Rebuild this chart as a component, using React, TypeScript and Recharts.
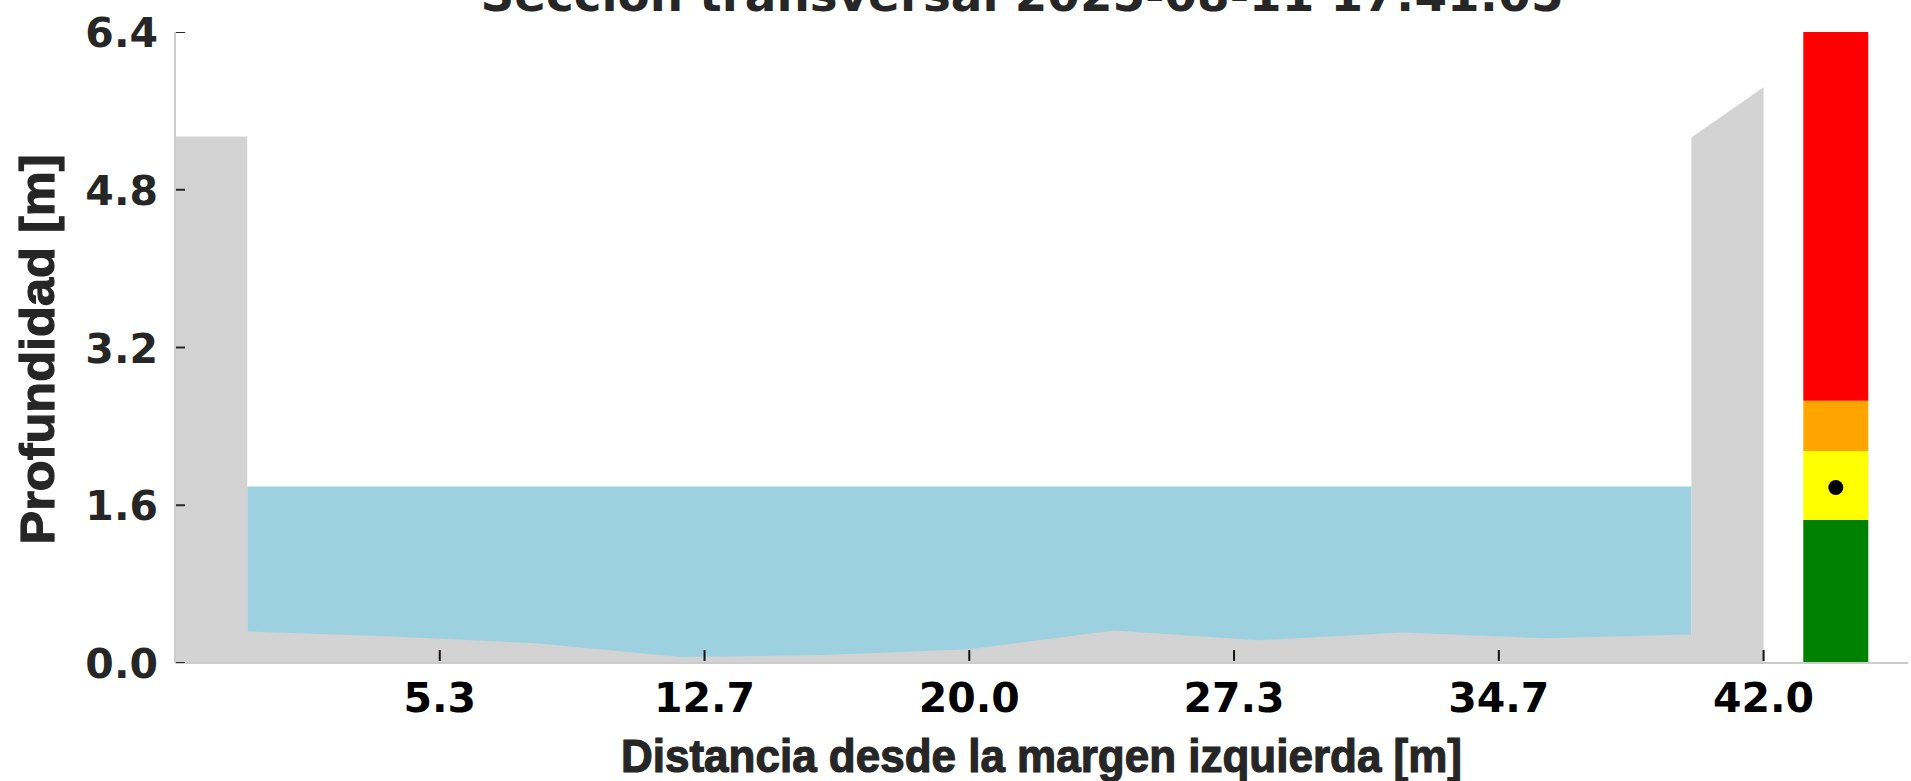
import React from 'react';
import { ComposedChart, Area, Scatter, XAxis, YAxis, ReferenceArea } from 'recharts';

// ---- text ----
const titleText = 'Sección transversal 2025-08-11 17:41:05';
const xAxisTitle = 'Distancia desde la margen izquierda [m]';
const yAxisTitle = 'Profundidad [m]';

// ---- axes ----
const xDomain = [-2, 46];
const yDomain = [0, 6.4];
const xTicks = [5.333, 12.667, 20.0, 27.333, 34.667, 42.0];
const yTicks = [0, 1.6, 3.2, 4.8, 6.4];

// ---- cross-section geometry ----
const leftBankX = [-2, 0];
const leftBankTop = [5.34, 5.34];
const bedX = [0, 4, 8, 12, 16, 20, 24, 28, 32, 36, 40];
const bedDepth = [0.32, 0.27, 0.2, 0.06, 0.08, 0.14, 0.33, 0.23, 0.31, 0.25, 0.29];
const rightBankX = [40, 42];
const rightBankTop = [5.33, 5.84];

// ---- water ----
const waterX = [0, 40];
const waterLevel = 1.79;

// ---- gauge ----
const gaugeX = [43.1, 44.9];
const gaugeBandLow = [0, 1.45, 2.15, 2.66];
const gaugeBandHigh = [1.45, 2.15, 2.66, 6.4];
const gaugeBandColor = ['#008000', '#ffff00', '#ffa500', '#ff0000'];
const currentX = [44];
const currentLevel = [1.78];

const groundData = [
  ...leftBankX.map((x, i) => ({ x, y: leftBankTop[i] })),
  ...bedX.map((x, i) => ({ x, y: bedDepth[i] })),
  ...rightBankX.map((x, i) => ({ x, y: rightBankTop[i] })),
];
const waterData = waterX.map((x) => ({ x, y: waterLevel }));
const dotData = currentX.map((x, i) => ({ x, y: currentLevel[i] }));
const xTickMarkData = xTicks.map((x) => ({ x, y: yDomain[0] }));
const yTickMarkData = yTicks.map((y) => ({ x: xDomain[0], y }));

const NUM_FONT = "'DejaVu Sans', sans-serif";
const LABEL_FONT = "'Liberation Sans', Arial, sans-serif";

const XTick = (props: any) => {
  const { x, y, payload } = props;
  return (
    <text x={x} y={y + 49} textAnchor="middle" fontFamily={NUM_FONT} fontWeight="bold" fontSize={41} fill="#000">
      {Number(payload.value).toFixed(1)}
    </text>
  );
};

const YTick = (props: any) => {
  const { x, y, payload } = props;
  return (
    <text x={x - 17} y={y + 15} textAnchor="end" fontFamily={NUM_FONT} fontWeight="bold" fontSize={41} fill="#262626">
      {Number(payload.value).toFixed(1)}
    </text>
  );
};

const XTickMark = (p: any) => (
  <line x1={p.cx} x2={p.cx} y1={p.cy - 2} y2={p.cy - 13} stroke="#111" strokeWidth={2} />
);
const YTickMark = (p: any) => (
  <line x1={p.cx + 1} x2={p.cx + 10} y1={p.cy} y2={p.cy} stroke="#262626" strokeWidth={2} />
);

const XLabel = (props: any) => {
  const vb = props.viewBox || {};
  const cx = vb.x + vb.width / 2;
  return (
    <text
      x={cx}
      y={vb.y + 109}
      textAnchor="middle"
      fontFamily={LABEL_FONT}
      fontWeight="bold"
      fontSize={46}
      fill="#262626"
      stroke="#262626"
      strokeWidth={1.2}
      textLength={841}
      lengthAdjust="spacingAndGlyphs"
    >
      {xAxisTitle}
    </text>
  );
};

const YLabel = (props: any) => {
  const vb = props.viewBox || {};
  const cx = vb.x + 54;
  const cy = vb.y + vb.height / 2 + 2;
  return (
    <text
      x={cx}
      y={cy}
      transform={`rotate(-90 ${cx} ${cy})`}
      textAnchor="middle"
      fontFamily={LABEL_FONT}
      fontWeight="bold"
      fontSize={48}
      fill="#262626"
      stroke="#262626"
      strokeWidth={1.2}
      textLength={390}
      lengthAdjust="spacingAndGlyphs"
    >
      {yAxisTitle}
    </text>
  );
};

export default function App() {
  return (
    <div style={{ position: 'absolute', left: 0, top: 0, width: 1911, height: 781, background: '#fff', overflow: 'hidden' }}>
      <ComposedChart width={1911} height={781} margin={{ top: 32, right: 3, bottom: 0, left: 0 }}>
        <Area
          data={waterData}
          dataKey="y"
          type="linear"
          stroke="none"
          fill="#9ed1e0"
          fillOpacity={1}
          isAnimationActive={false}
          dot={false}
          activeDot={false}
        />
        <Area
          data={groundData}
          dataKey="y"
          type="linear"
          stroke="none"
          fill="#d3d3d3"
          fillOpacity={1}
          isAnimationActive={false}
          dot={false}
          activeDot={false}
        />
        {gaugeBandColor.map((c, i) => (
          <ReferenceArea
            key={i}
            x1={gaugeX[0]}
            x2={gaugeX[1]}
            y1={gaugeBandLow[i]}
            y2={gaugeBandHigh[i]}
            fill={c}
            fillOpacity={1}
            stroke="none"
          />
        ))}
        <Scatter
          data={dotData}
          dataKey="y"
          isAnimationActive={false}
          shape={(p: any) => <circle cx={p.cx} cy={p.cy} r={7.5} fill="#000" />}
        />
        <Scatter data={xTickMarkData} dataKey="y" isAnimationActive={false} shape={XTickMark} />
        <Scatter data={yTickMarkData} dataKey="y" isAnimationActive={false} shape={YTickMark} />
        <XAxis
          type="number"
          dataKey="x"
          domain={xDomain}
          ticks={xTicks}
          allowDataOverflow
          height={118}
          tickSize={0}
          tickMargin={0}
          tickLine={false}
          axisLine={{ stroke: '#cccccc', strokeWidth: 2 }}
          tick={XTick}
          interval={0}
          label={{ content: XLabel }}
        />
        <YAxis
          type="number"
          domain={yDomain}
          ticks={yTicks}
          allowDataOverflow
          width={175}
          tickSize={0}
          tickMargin={0}
          tickLine={false}
          axisLine={{ stroke: '#cccccc', strokeWidth: 2 }}
          tick={YTick}
          interval={0}
          label={{ content: YLabel }}
        />
      </ComposedChart>
      <svg width={1911} height={781} style={{ position: 'absolute', left: 0, top: 0, pointerEvents: 'none' }}>
        <text
          x={1022}
          y={11}
          textAnchor="middle"
          fontFamily={NUM_FONT}
          fontWeight="bold"
          fontSize={47}
          fill="#262626"
          textLength={1083}
          lengthAdjust="spacingAndGlyphs"
        >
          {titleText}
        </text>
      </svg>
    </div>
  );
}
